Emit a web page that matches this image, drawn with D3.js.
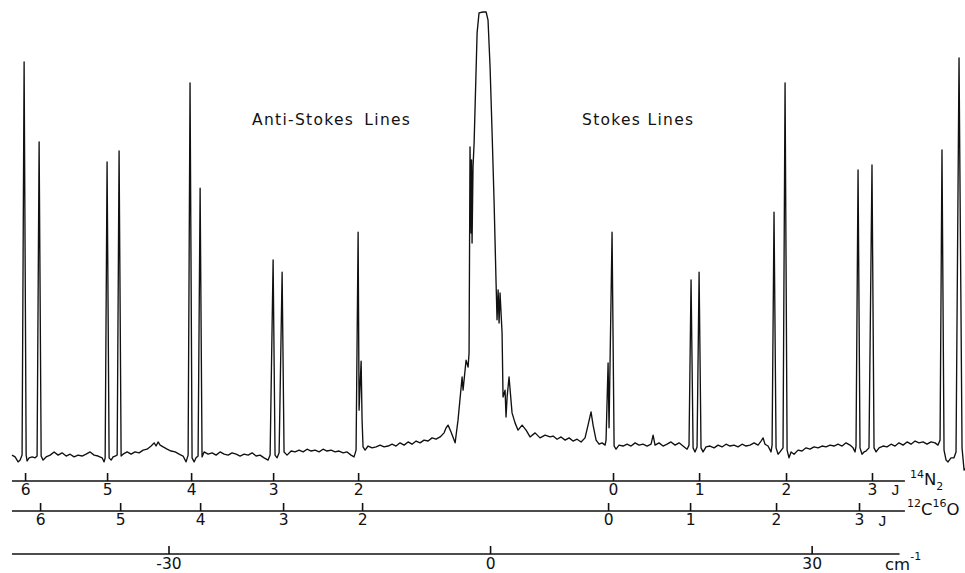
<!DOCTYPE html>
<html>
<head>
<meta charset="utf-8">
<script src="https://cdn.jsdelivr.net/npm/d3@7"></script>
<style>
  html, body { margin: 0; padding: 0; background: #fff; }
  svg { display: block; font-family: "DejaVu Sans", sans-serif; }
  .trace { fill: none; stroke: #111; stroke-width: 1.35; stroke-linejoin: round; }
  .axis-line { stroke: #111; stroke-width: 1.7; }
  .axis .tick line { stroke: #111; stroke-width: 1.6; }
  .axis .tick text { font-size: 15.5px; fill: #111; font-family: "DejaVu Sans", sans-serif; }
  .label { font-size: 15.5px; letter-spacing: 1.3px; fill: #111; }
  .species { font-size: 16.5px; fill: #111; }
</style>
</head>
<body>
<svg class="spectrum" width="965" height="573"></svg>
<script>
// Raman shift (cm-1) and intensity (arb. units)
const spectrum = [
  [-44.60, 2.4], [-44.31, 2.0], [-44.03, 0.9], [-43.84, 1.3], [-43.66, 2.4],
  [-43.47, 89.0], [-43.28, 2.4], [-43.19, 1.1], [-43.00, 1.8], [-42.72, 2.0],
  [-42.44, 1.8], [-42.26, 2.2], [-42.07, 71.4], [-41.88, 2.2], [-41.70, 1.3],
  [-41.42, 2.0], [-41.04, 2.4], [-40.67, 3.1], [-40.30, 2.4], [-39.93, 2.9],
  [-39.55, 2.2], [-39.18, 2.6], [-38.81, 2.0], [-38.43, 2.4], [-38.06, 2.2],
  [-37.69, 2.6], [-37.31, 3.1], [-36.94, 2.4], [-36.57, 2.2], [-36.19, 1.8],
  [-36.01, 0.9], [-35.91, 1.8], [-35.73, 67.0], [-35.54, 1.8], [-35.35, 1.3],
  [-35.17, 2.0], [-34.98, 2.2], [-34.79, 2.4], [-34.61, 69.4], [-34.42, 2.2],
  [-34.24, 2.6], [-33.86, 3.1], [-33.49, 2.6], [-33.12, 3.1], [-32.74, 2.9],
  [-32.37, 3.5], [-32.00, 3.7], [-31.62, 4.4], [-31.34, 5.1], [-31.16, 4.4],
  [-30.97, 5.3], [-30.78, 4.6], [-30.50, 4.2], [-30.13, 3.7], [-29.76, 3.3],
  [-29.38, 3.1], [-29.01, 2.6], [-28.64, 2.2], [-28.36, 0.9], [-28.17, 2.4],
  [-27.99, 84.4], [-27.80, 1.8], [-27.61, 0.9], [-27.43, 1.8], [-27.24, 2.2],
  [-27.05, 61.2], [-26.87, 2.0], [-26.68, 3.1], [-26.31, 2.6], [-25.93, 2.9],
  [-25.56, 2.4], [-25.19, 3.1], [-24.81, 2.6], [-24.44, 2.4], [-24.07, 2.9],
  [-23.69, 2.6], [-23.32, 2.2], [-22.95, 2.6], [-22.57, 2.4], [-22.20, 2.9],
  [-21.83, 2.2], [-21.46, 2.4], [-21.08, 1.8], [-20.71, 1.3], [-20.52, 2.4],
  [-20.24, 45.4], [-20.06, 2.4], [-19.87, 1.8], [-19.68, 2.9], [-19.40, 42.7],
  [-19.22, 3.1], [-18.94, 2.4], [-18.56, 3.3], [-18.19, 3.1], [-17.82, 3.5],
  [-17.44, 3.1], [-17.07, 3.7], [-16.70, 3.3], [-16.32, 3.5], [-15.95, 3.1],
  [-15.58, 3.7], [-15.21, 3.3], [-14.83, 3.5], [-14.46, 3.1], [-14.09, 3.3],
  [-13.71, 2.9], [-13.34, 3.1], [-12.97, 2.4], [-12.69, 2.0], [-12.50, 3.5],
  [-12.31, 51.5], [-12.22, 12.3], [-12.03, 23.1], [-11.94, 10.1], [-11.85, 4.2],
  [-11.66, 3.5], [-11.38, 4.4], [-11.01, 4.0], [-10.63, 4.2], [-10.26, 4.6],
  [-9.89, 4.2], [-9.51, 4.4], [-9.14, 4.8], [-8.77, 4.4], [-8.40, 5.1],
  [-8.02, 4.6], [-7.65, 5.3], [-7.28, 4.8], [-6.90, 5.5], [-6.53, 5.1],
  [-6.16, 5.7], [-5.78, 5.5], [-5.41, 6.2], [-5.04, 5.9], [-4.66, 6.4],
  [-4.29, 7.3], [-4.10, 8.4], [-3.92, 9.0], [-3.64, 7.5], [-3.26, 5.1],
  [-2.99, 10.1], [-2.61, 19.6], [-2.52, 16.7], [-2.24, 23.3], [-2.05, 21.8],
  [-1.96, 24.9], [-1.87, 70.3], [-1.77, 51.3], [-1.73, 67.4], [-1.68, 49.1],
  [-1.59, 65.9], [-1.49, 71.1], [-1.21, 95.4], [-1.03, 99.8], [-0.65, 100.0],
  [-0.37, 100.0], [-0.19, 98.2], [0.00, 87.9], [0.19, 73.3], [0.37, 58.6],
  [0.56, 40.3], [0.65, 32.2], [0.75, 38.8], [0.84, 31.5], [0.93, 38.1],
  [1.12, 29.3], [1.21, 15.2], [1.40, 16.7], [1.49, 10.8], [1.59, 15.2],
  [1.77, 19.6], [2.05, 11.7], [2.33, 9.5], [2.61, 7.9], [2.99, 9.0],
  [3.36, 7.9], [3.73, 6.4], [4.20, 7.3], [4.66, 6.2], [5.13, 6.8],
  [5.60, 6.4], [5.88, 6.6], [6.25, 5.9], [6.62, 6.4], [7.00, 5.7],
  [7.37, 6.2], [7.74, 5.5], [8.12, 5.9], [8.49, 5.3], [8.86, 6.2],
  [9.14, 9.0], [9.42, 11.9], [9.61, 9.0], [9.89, 5.7], [10.17, 4.8],
  [10.45, 5.1], [10.73, 4.6], [10.82, 5.7], [11.01, 22.7], [11.10, 8.4],
  [11.38, 51.5], [11.57, 4.4], [11.75, 3.7], [12.03, 4.6], [12.41, 4.4],
  [12.78, 4.8], [13.15, 4.4], [13.53, 5.1], [13.90, 4.6], [14.27, 4.8],
  [14.65, 4.4], [15.02, 4.8], [15.21, 6.8], [15.39, 4.6], [15.76, 5.1],
  [16.14, 4.4], [16.51, 4.8], [16.88, 5.3], [17.26, 4.6], [17.63, 5.1],
  [18.00, 4.4], [18.38, 3.7], [18.56, 4.6], [18.75, 41.0], [18.94, 4.0],
  [19.12, 3.1], [19.31, 4.2], [19.50, 42.7], [19.68, 4.0], [19.87, 3.1],
  [20.15, 4.2], [20.52, 4.4], [20.90, 4.0], [21.27, 4.6], [21.64, 4.2],
  [22.01, 4.8], [22.39, 4.4], [22.76, 4.6], [23.13, 4.2], [23.51, 4.8],
  [23.88, 4.4], [24.25, 4.6], [24.63, 5.1], [25.00, 4.6], [25.28, 5.5],
  [25.47, 6.2], [25.65, 4.8], [25.93, 4.4], [26.21, 3.1], [26.31, 4.6],
  [26.49, 55.9], [26.68, 4.0], [26.87, 2.6], [27.05, 3.1], [27.33, 4.0],
  [27.52, 84.4], [27.71, 3.5], [27.89, 1.8], [28.08, 3.1], [28.36, 2.6],
  [28.73, 3.5], [29.10, 3.3], [29.48, 4.0], [29.85, 3.7], [30.22, 4.2],
  [30.60, 4.0], [30.97, 4.4], [31.34, 4.2], [31.72, 4.6], [32.09, 4.4],
  [32.46, 4.8], [32.84, 4.4], [33.21, 5.1], [33.58, 4.6], [33.86, 4.0],
  [34.05, 3.1], [34.14, 4.4], [34.33, 65.2], [34.51, 4.0], [34.70, 2.6],
  [34.89, 3.1], [35.07, 3.3], [35.35, 4.0], [35.63, 66.3], [35.82, 4.0],
  [36.01, 3.1], [36.29, 4.0], [36.66, 4.4], [37.03, 4.2], [37.41, 4.8],
  [37.78, 4.4], [38.15, 5.1], [38.53, 4.6], [38.90, 5.3], [39.27, 4.8],
  [39.65, 5.5], [40.02, 5.1], [40.39, 5.3], [40.76, 4.8], [41.14, 5.3],
  [41.51, 5.1], [41.79, 4.6], [41.98, 5.7], [42.16, 69.6], [42.35, 3.5],
  [42.54, 1.3], [42.72, 0.9], [43.00, 1.8], [43.28, 1.8], [43.47, 3.1],
  [43.75, 89.9], [44.03, 4.0], [44.22, -0.9], [44.40, -0.4],
];

// rotational line positions (cm-1) and their J labels
const n2Lines = [-43.38, -35.73, -27.89, -20.24, -12.31, 11.47, 19.50, 27.61, 35.63];
const n2J = ["6", "5", "4", "3", "2", "0", "1", "2", "3"];
const coLines = [-41.98, -34.51, -27.05, -19.31, -11.94, 11.01, 18.66, 26.68, 34.42];
const coJ = ["6", "5", "4", "3", "2", "0", "1", "2", "3"];
const shiftTicks = [-30, 0, 30];

const shiftDomain = [-44.6, 44.4];
const intensityDomain = [0, 100];
const scaleLineEnd = 38.7;
const n2JAt = 37.8;
const coJAt = 36.6;

function createChart() {
  const svg = d3.select(".spectrum");

  const xScale = d3.scaleLinear().domain(shiftDomain).range([12, 966]);
  const yScale = d3.scaleLinear().domain(intensityDomain).range([466, 12]);

  const line = d3
    .line()
    .x((d) => xScale(d[0]))
    .y((d) => yScale(d[1]));

  svg.append("path").datum(spectrum).attr("class", "trace").attr("d", line);

  function jAxis(values, labels, y, padding) {
    const labelOf = new Map(values.map((v, i) => [v, labels[i]]));
    const axis = d3
      .axisBottom(xScale)
      .tickValues(values)
      .tickFormat((d) => labelOf.get(d))
      .tickSizeInner(-8)
      .tickSizeOuter(0)
      .tickPadding(padding);
    const g = svg
      .append("g")
      .attr("class", "axis")
      .attr("transform", "translate(0, " + y + ")")
      .call(axis);
    g.select(".domain").remove();
    g.append("line")
      .attr("class", "axis-line")
      .attr("x1", xScale(shiftDomain[0]))
      .attr("x2", xScale(scaleLineEnd));
    return g;
  }

  const n2Axis = jAxis(n2Lines, n2J, 481, 3);
  n2Axis
    .append("text")
    .attr("x", xScale(n2JAt))
    .attr("y", 14)
    .attr("text-anchor", "middle")
    .attr("font-size", 15.5)
    .attr("fill", "#111")
    .text("J");

  const coAxis = jAxis(coLines, coJ, 511, 3);
  coAxis
    .append("text")
    .attr("x", xScale(coJAt))
    .attr("y", 15)
    .attr("text-anchor", "middle")
    .attr("font-size", 15.5)
    .attr("fill", "#111")
    .text("J");

  const shiftAxis = d3
    .axisBottom(xScale)
    .tickValues(shiftTicks)
    .tickFormat((d) => (d < 0 ? "-" + Math.abs(d) : String(d)))
    .tickSizeInner(-8)
    .tickSizeOuter(0)
    .tickPadding(4);
  const sg = svg
    .append("g")
    .attr("class", "axis")
    .attr("transform", "translate(0, 554)")
    .call(shiftAxis);
  sg.select(".domain").remove();
  sg.append("line")
    .attr("class", "axis-line")
    .attr("x1", xScale(shiftDomain[0]))
    .attr("x2", xScale(38.2));

  // species and unit labels
  const n2Label = svg.append("text").attr("class", "species").attr("x", 910).attr("y", 485);
  n2Label.append("tspan").attr("font-size", 11).attr("dy", -7).text("14");
  n2Label.append("tspan").attr("dy", 7).text("N");
  n2Label.append("tspan").attr("font-size", 11).attr("dy", 5).text("2");

  const coLabel = svg.append("text").attr("class", "species").attr("x", 907).attr("y", 515);
  coLabel.append("tspan").attr("font-size", 11).attr("dy", -8).text("12");
  coLabel.append("tspan").attr("dy", 8).text("C");
  coLabel.append("tspan").attr("font-size", 11).attr("dy", -8).text("16");
  coLabel.append("tspan").attr("dy", 8).text("O");

  const unit = svg.append("text").attr("class", "species").attr("x", 885).attr("y", 570).attr("font-size", 15.5);
  unit.append("tspan").text("cm");
  unit.append("tspan").attr("font-size", 11).attr("dy", -10).text("-1");

  svg.append("text").attr("class", "label").attr("x", 252).attr("y", 125)
    .attr("word-spacing", 4).text("Anti-Stokes Lines");
  svg.append("text").attr("class", "label").attr("x", 582).attr("y", 125)
    .attr("letter-spacing", 1.6).text("Stokes Lines");
}

createChart();
</script>
</body>
</html>
